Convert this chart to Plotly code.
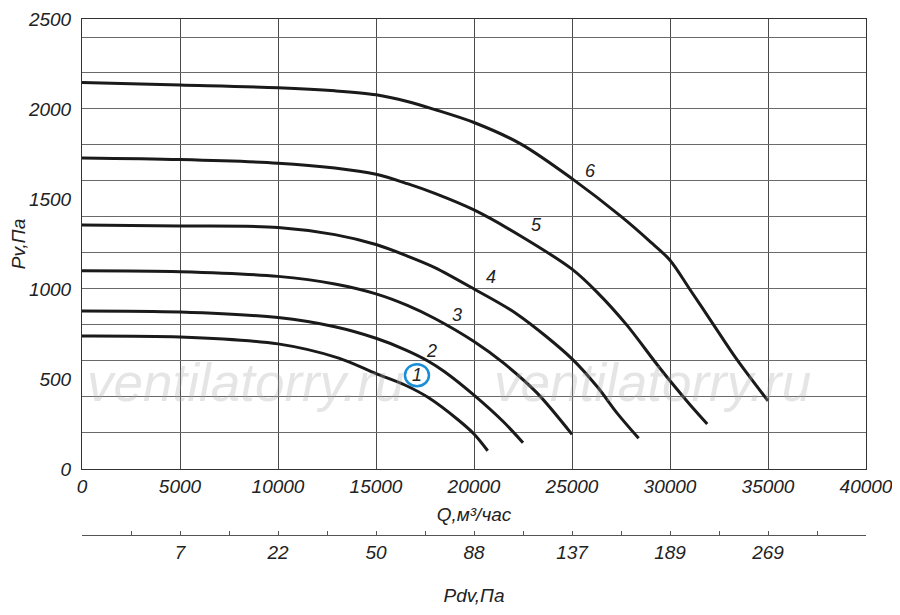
import plotly.graph_objects as go

# ---- data ----
q1 = [0, 5000, 10000, 13100, 15000, 16500, 17650, 19200, 20000, 20700]
p1 = [739, 733, 695, 616, 530, 465, 398, 272, 194, 101]

q2 = [0, 5000, 10000, 12900, 15000, 16500, 17650, 18500, 20000, 21500, 22500]
p2 = [878, 872, 841, 790, 726, 662, 600, 540, 410, 262, 146]

q3 = [0, 5000, 10000, 12900, 15000, 16600, 18000, 20000, 21500, 23200, 25000]
p3 = [1101, 1096, 1070, 1028, 973, 909, 836, 708, 589, 424, 192]

q4 = [0, 5000, 10000, 12900, 15000, 16600, 18000, 20000, 22200, 25000, 26300, 27300, 28400]
p4 = [1356, 1350, 1342, 1302, 1247, 1183, 1119, 1000, 860, 612, 455, 310, 170]

q5 = [0, 5000, 10000, 12900, 15000, 16600, 18000, 20000, 22400, 25000, 26300, 27800, 29200, 30000, 31000, 31900]
p5 = [1728, 1719, 1699, 1672, 1637, 1585, 1531, 1439, 1293, 1110, 980, 799, 600, 490, 360, 250]

q6 = [0, 5000, 10000, 12900, 15000, 16600, 18000, 20000, 22400, 25000, 27500, 29000, 30000, 31000, 32200, 33400, 35000]
p6 = [2147, 2133, 2118, 2101, 2079, 2042, 1997, 1925, 1805, 1613, 1403, 1262, 1160, 1000, 805, 610, 378]

curve_names = ["1", "2", "3", "4", "5", "6"]
label_q = [17090, 17850, 19120, 20850, 23190, 25930]
label_p = [521, 653, 856, 1064, 1355, 1656]

q_ticks = [0, 5000, 10000, 15000, 20000, 25000, 30000, 35000, 40000]
p_ticks = [0, 500, 1000, 1500, 2000, 2500]
pdv_q = [5000, 10000, 15000, 20000, 25000, 30000, 35000]
pdv_labels = ["7", "22", "50", "88", "137", "189", "269"]

# ---- styling ----
FONT = "Liberation Sans, Arial, sans-serif"
TXT = "#222222"
GRID_V = "#4a4a4a"
GRID_H = "#6a6a6a"

fig = go.Figure()

curves = [(q1, p1), (q2, p2), (q3, p3), (q4, p4), (q5, p5), (q6, p6)]
for name, (q, p) in zip(curve_names, curves):
    fig.add_trace(go.Scatter(
        x=q, y=p, mode="lines", name=name,
        line=dict(color="#1a1a1a", width=3, shape="spline", smoothing=0.9),
        showlegend=False, hoverinfo="skip",
    ))

# helper empty traces so the overlay axes are rendered
fig.add_trace(go.Scatter(x=[], y=[], xaxis="x", yaxis="y2", showlegend=False))
fig.add_trace(go.Scatter(x=[], y=[], xaxis="x2", yaxis="y", showlegend=False))

# Pdv secondary scale ticks (every 2500, labelled at 5000 steps)
pdv_tickvals = [i * 2500 for i in range(17)]
pdv_ticktext = []
for v in pdv_tickvals:
    if v in pdv_q:
        pdv_ticktext.append(pdv_labels[pdv_q.index(v)])
    else:
        pdv_ticktext.append("")

tick_font = dict(family=FONT, size=19, color=TXT, style="italic")
title_font = dict(family=FONT, size=19, color=TXT, style="italic")

# the page body adds an 8px offset, so the figure is sized to fit the window
fig.update_layout(
    width=884, height=599,
    margin=dict(l=74, r=26, t=11, b=72),
    paper_bgcolor="white", plot_bgcolor="white",
    font=dict(family=FONT, color=TXT, style="italic"),
    xaxis=dict(
        range=[0, 40000], tickvals=q_ticks, ticktext=[str(v) for v in q_ticks],
        showgrid=True, gridcolor=GRID_V, gridwidth=1,
        showline=True, linecolor="#333333", linewidth=1, mirror=True,
        ticks="", tickfont=tick_font, ticklabelstandoff=0, zeroline=False,
        automargin=False, ticklabeloverflow="allow",
        title=dict(text="Q,м³/час", font=title_font, standoff=11),
    ),
    yaxis=dict(
        domain=[0.128, 1], range=[0, 2500], tickvals=p_ticks,
        ticktext=[str(v) for v in p_ticks],
        showgrid=False, showline=True, linecolor="#333333", linewidth=1, mirror=True,
        ticks="", tickfont=tick_font, ticklabelstandoff=6, zeroline=False,
        automargin=False, ticklabeloverflow="allow",
        title=dict(text="Pv,Па", font=title_font, standoff=8),
    ),
    yaxis2=dict(
        overlaying="y", range=[0, 2500], tick0=0, dtick=200,
        showgrid=True, gridcolor=GRID_H, gridwidth=1,
        showticklabels=False, ticks="", zeroline=False, showline=False,
        automargin=False,
    ),
    xaxis2=dict(
        overlaying="x", anchor="free", position=0, side="bottom",
        range=[0, 40000], tickvals=pdv_tickvals, ticktext=pdv_ticktext,
        showgrid=False, showline=True, linecolor="#555555", linewidth=1,
        ticks="inside", ticklen=4, tickcolor="#555555", tickfont=tick_font,
        ticklabelstandoff=0, zeroline=False, automargin=False,
        ticklabeloverflow="allow",
        title=dict(text="Pdv,Па", font=title_font, standoff=26),
    ),
)

# curve number labels
for name, lq, lp in zip(curve_names, label_q, label_p):
    fig.add_annotation(x=lq, y=lp, xref="x", yref="y", text=name, showarrow=False,
                       font=dict(family=FONT, size=18, color=TXT, style="italic"))

# blue circle around label "1"
fig.add_shape(type="circle", xref="x", yref="y",
              xsizemode="pixel", ysizemode="pixel",
              xanchor=label_q[0], yanchor=label_p[0],
              x0=-12, x1=12, y0=-11, y1=11,
              line=dict(color="#1a8fd8", width=2.5))

# watermark
for wx in [0.209, 0.728]:
    fig.add_annotation(x=wx, y=0.295, xref="paper", yref="paper", text="ventilatorry.ru",
                       xanchor="center", yanchor="middle", showarrow=False,
                       font=dict(family=FONT, size=53, color="rgba(170,170,170,0.30)",
                                 style="italic"))

fig.write_html("out.html")
